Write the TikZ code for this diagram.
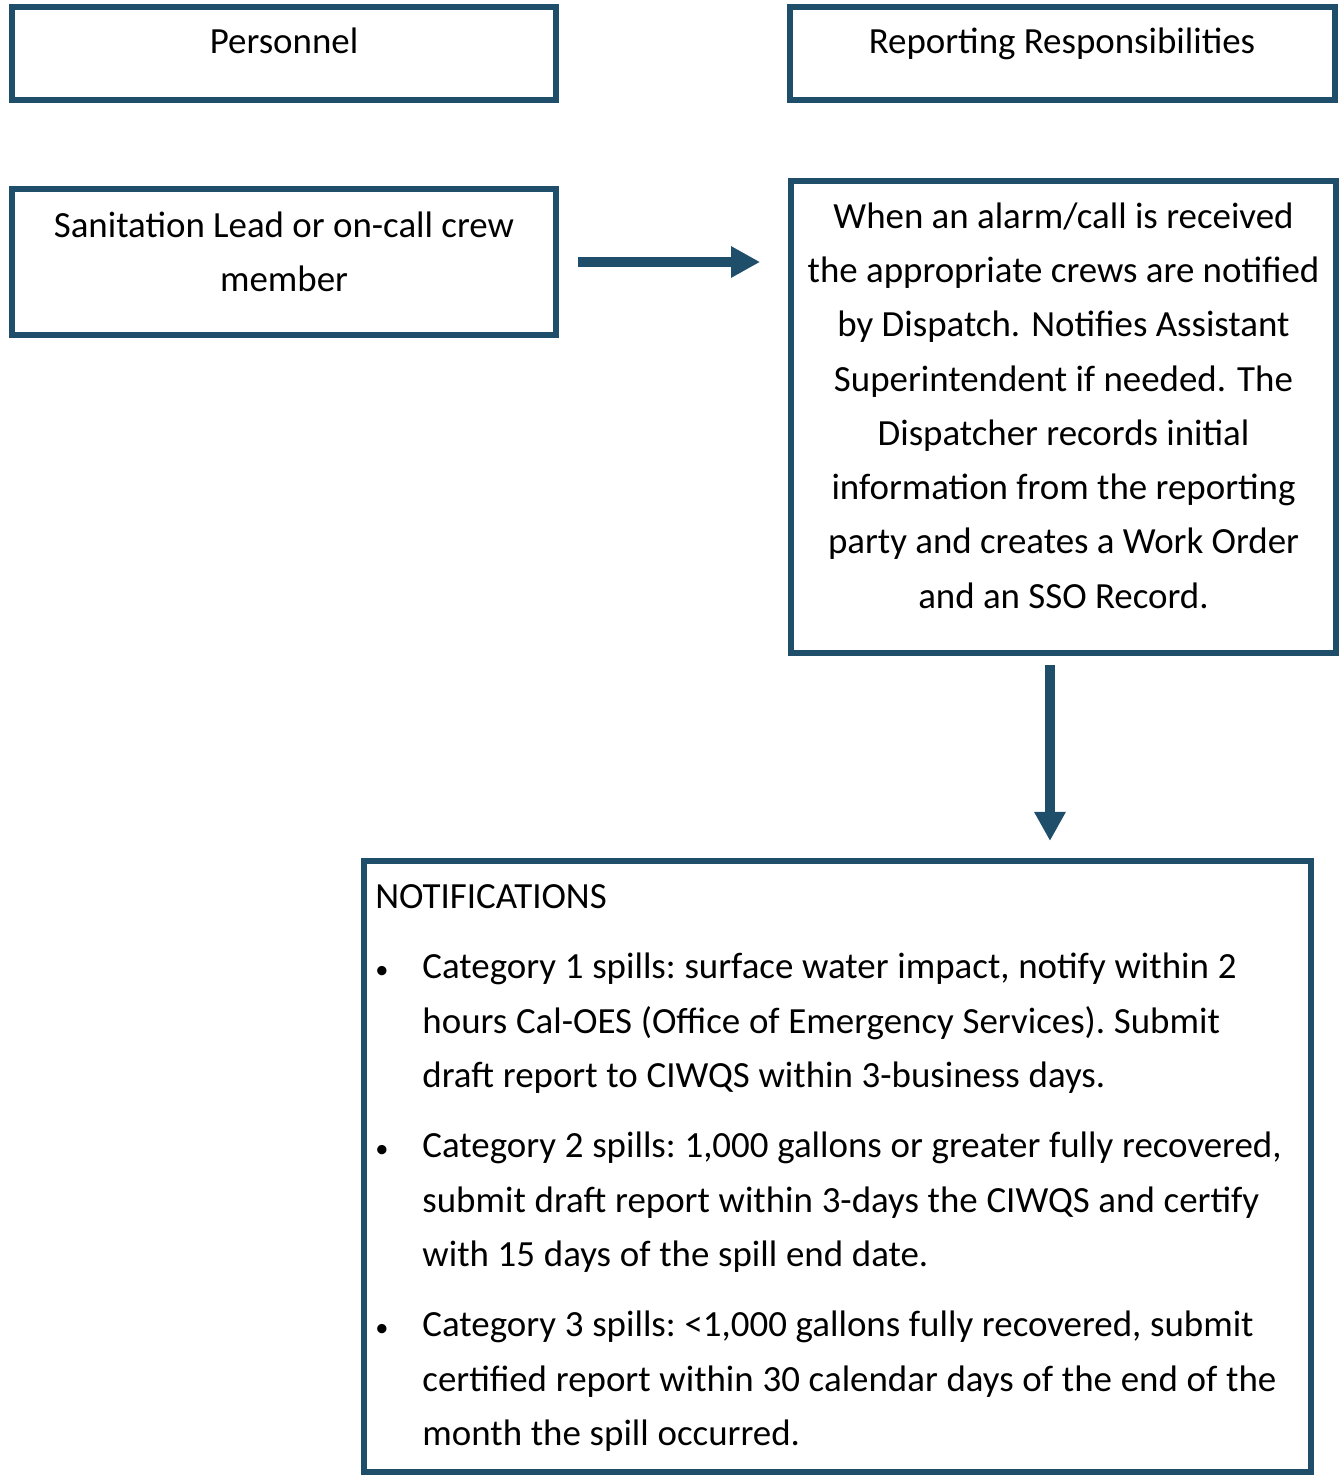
\documentclass[tikz,border=0pt]{standalone}
\usepackage{fontspec}
\setmainfont{Carlito}
\usetikzlibrary{arrows.meta,positioning}
\definecolor{framecol}{HTML}{1F4E6A}
\newcommand\diagfont{\fontsize{21pt}{30.9pt}\selectfont}
\newcommand\notiflabel[1]{#1\hfill}
\newcommand\notifbullet{{\fontsize{15pt}{15pt}\selectfont\textbullet}}
\tikzset{
  frame/.style={draw=framecol, line width=2.9pt, outer sep=0pt, inner sep=0pt},
  boxtext/.style={align=center, inner sep=0pt, font=\diagfont},
  flowarrow/.style={draw=framecol, line width=5.7pt,
    -{Triangle[width=16.8pt,length=16.5pt]}}
}
\begin{document}
\begin{tikzpicture}[x=0.02cm, y=-0.02cm]
  \useasboundingbox (0,0) rectangle (1340,1480);

  % Headers
  \node (perhead) [frame, minimum width=544*0.02cm, minimum height=93*0.02cm] at (284,53.5) {};
  \node (perlabel) [boxtext, anchor=base] at (284,54) {Personnel};
  \node (rephead) [frame, minimum width=545*0.02cm, minimum height=93*0.02cm] at (1062.5,53.5) {};
  \node (replabel) [boxtext, anchor=base] at (1062,54) {Reporting Responsibilities};

  % Personnel box
  \node (crew) [frame, minimum width=544*0.02cm, minimum height=146*0.02cm] at (284,262) {};
  \node (crewtext) [boxtext] at (284,252) {Sanitation Lead or on-call crew\\member};

  % Responsibility box
  \node (dispatch) [frame, minimum width=545*0.02cm, minimum height=472*0.02cm] at (1063.5,417) {};
  \node (dispatchtext) [boxtext] at (1063.5,405.5) {When an alarm/call is received\\
    the appropriate crews are notified\\
    by Dispatch. Notifies Assistant\\
    Superintendent if needed. The\\
    Dispatcher records initial\\
    information from the reporting\\
    party and creates a Work Order\\
    and an SSO Record.};

  % Notifications
  \node (notif) [frame, minimum width=947*0.02cm, minimum height=611*0.02cm] at (837.5,1166.5) {};
  \node (notiftext) [anchor=north west, inner sep=0pt, text width=990*0.02cm, align=left, font=\diagfont] at (375,884) {%
    \frenchspacing\spaceskip=1.05\fontdimen2\font\relax NOTIFICATIONS
    \begin{list}{\notifbullet}{\setlength\leftmargin{26.8pt}\setlength\labelwidth{26.8pt}%
        \setlength\labelsep{0pt}\setlength\topsep{9.2pt}\setlength\itemsep{9.2pt}%
        \setlength\parsep{0pt}\setlength\partopsep{0pt}\let\makelabel\notiflabel}
      \item Category 1 spills: surface water impact, notify within 2\\
        hours Cal-OES (Office of Emergency Services). Submit\\
        draft report to CIWQS within 3-business days.
      \item Category 2 spills: 1,000 gallons or greater fully recovered,\\
        submit draft report within 3-days the CIWQS and certify\\
        with 15 days of the spill end date.
      \item Category 3 spills: <1,000 gallons fully recovered, submit\\
        certified report within 30 calendar days of the end of the\\
        month the spill occurred.
    \end{list}};

  % Connections
  \draw[flowarrow, shorten <=12.5pt, shorten >=17.6pt] (crew.east) -- (crew.east -| dispatch.west);
  \draw[flowarrow, shorten <=6.8pt, shorten >=11.4pt] ([xshift=-7.7pt]dispatch.south) -- ([xshift=-7.7pt]dispatch.south |- notif.north);
\end{tikzpicture}
\end{document}
